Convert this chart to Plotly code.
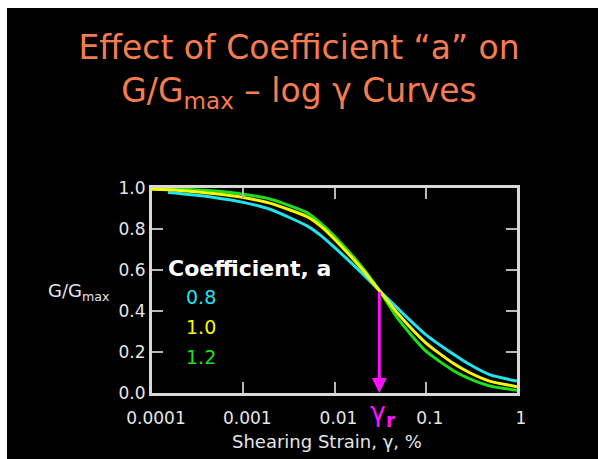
import math
import plotly.graph_objects as go

# Shearing strain (%) sample points and G/Gmax for each coefficient a
strain = [0.0001, 0.00015, 0.0002, 0.0005, 0.001, 0.002, 0.005, 0.007, 0.01,
          0.02, 0.031, 0.05, 0.1, 0.2, 0.3, 0.5, 1.0]
g_a08 = [None, 0.978, 0.973, 0.953, 0.93, 0.895, 0.815, 0.77, 0.71,
         0.585, 0.50, 0.41, 0.285, 0.19, 0.14, 0.09, 0.058]
g_a10 = [0.994, 0.991, 0.988, 0.972, 0.954, 0.925, 0.86, 0.815, 0.75,
         0.605, 0.50, 0.385, 0.245, 0.145, 0.10, 0.058, 0.031]
g_a12 = [0.998, 0.997, 0.995, 0.985, 0.97, 0.945, 0.88, 0.83, 0.765,
         0.615, 0.50, 0.36, 0.205, 0.11, 0.07, 0.035, 0.013]

coef_labels = ["0.8", "1.0", "1.2"]
gamma_r = 0.031

x_tickvals = [0.0001, 0.001, 0.01, 0.1, 1]
x_ticktext = ["0.0001", "0.001", "0.01", "0.1", "1"]
y_tickvals = [0.0, 0.2, 0.4, 0.6, 0.8, 1.0]
y_ticktext = ["0.0", "0.2", "0.4", "0.6", "0.8", "1.0"]

CYAN = "#1fe4ee"
YELLOW = "#f7f700"
GREEN = "#1ee01e"
MAGENTA = "#ff10ff"
SALMON = "#f47c50"
FONT = "DejaVu Sans"

fig = go.Figure()
for yvals, color in [(g_a12, GREEN), (g_a08, CYAN), (g_a10, YELLOW)]:
    fig.add_trace(go.Scatter(
        x=strain, y=yvals, mode="lines",
        line=dict(color=color, width=3, shape="spline", smoothing=0.6),
        connectgaps=False, hoverinfo="skip"))

W, H = 598, 459
L, R, T, B = 152, 81, 188, 66
pw, ph = W - L - R, H - T - B


def px_x(px):
    return (px - L) / pw


def px_y(py):
    return (H - B - py) / ph


annotations = [
    dict(text="G/G<sub>max</sub>", x=px_x(46), y=px_y(292), xref="paper", yref="paper",
         xanchor="left", yanchor="middle", showarrow=False,
         font=dict(family=FONT, size=18, color="#e6e6e6")),
    dict(text="<b>Coefficient, a</b>", x=px_x(166), y=px_y(268), xref="paper", yref="paper",
         xanchor="left", yanchor="middle", showarrow=False,
         font=dict(family=FONT, size=22, color="white")),
    dict(text="Shearing Strain, γ, %", x=px_x(327), y=px_y(441), xref="paper", yref="paper",
         xanchor="center", yanchor="middle", showarrow=False,
         font=dict(family=FONT, size=18, color="#e6e6e6")),
    # arrow from the curve crossing down to the strain axis
    dict(text="", x=math.log10(gamma_r), y=0, ax=math.log10(gamma_r), ay=0.5,
         xref="x", yref="y", axref="x", ayref="y", showarrow=True,
         arrowhead=2, arrowsize=1, arrowwidth=3, arrowcolor=MAGENTA),
    dict(text="γ<sub><b>r</b></sub>", x=math.log10(gamma_r), y=0, xref="x", yref="paper",
         xanchor="center", yanchor="top", xshift=4, yshift=-1, showarrow=False,
         font=dict(family=FONT, size=27, color=MAGENTA)),
]
for label, color, py in zip(coef_labels, [CYAN, YELLOW, GREEN], [297, 327, 357]):
    annotations.append(dict(text=label, x=px_x(184), y=px_y(py), xref="paper", yref="paper",
                            xanchor="left", yanchor="middle", showarrow=False,
                            font=dict(family=FONT, size=19, color=color)))

fig.update_layout(
    width=W, height=H,
    margin=dict(l=L, r=R, t=T, b=B),
    paper_bgcolor="white",
    plot_bgcolor="black",
    showlegend=False,
    title=dict(
        text="Effect of Coefficient “a” on<br>G/G<sub>max</sub> – log γ Curves",
        x=0.5, xanchor="center", xref="container",
        y=1 - 59 / H, yanchor="top", yref="container",
        font=dict(family=FONT, size=33, color=SALMON)),
    shapes=[dict(type="rect", xref="paper", yref="paper",
                 x0=px_x(7), x1=px_x(W + 5), y0=px_y(H + 5), y1=px_y(8),
                 fillcolor="black", line=dict(width=0), layer="below")],
    annotations=annotations,
)

fig.update_xaxes(
    type="log", range=[-4, 0],
    tickvals=x_tickvals, ticktext=x_ticktext,
    ticks="inside", ticklen=11, tickwidth=2, tickcolor="#b8b8b8",
    showline=True, linecolor="#d8d8d8", linewidth=3, mirror="ticks",
    showgrid=False, zeroline=False, ticklabelshift=4, ticklabelstandoff=8,
    tickfont=dict(family=FONT, size=17, color="#e6e6e6"))
fig.update_yaxes(
    range=[0, 1],
    tickvals=y_tickvals, ticktext=y_ticktext,
    ticks="inside", ticklen=11, tickwidth=2, tickcolor="#b8b8b8",
    showline=True, linecolor="#d8d8d8", linewidth=3, mirror="ticks",
    showgrid=False, zeroline=False,
    tickfont=dict(family=FONT, size=17, color="#e6e6e6"))

fig.write_html("out.html")
